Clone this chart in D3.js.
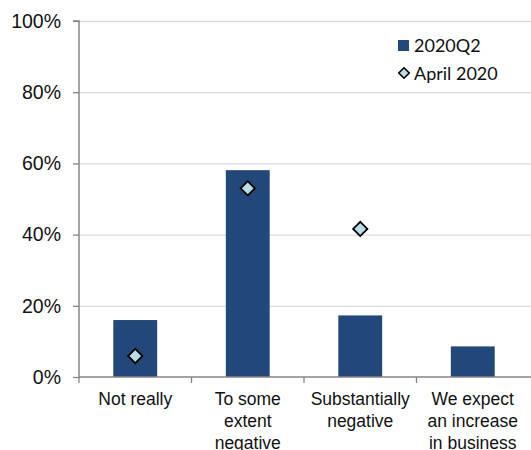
<!DOCTYPE html>
<html><head><meta charset="utf-8">
<script src="https://cdn.jsdelivr.net/npm/d3@7"></script>
<style>body{margin:0;background:#fff}svg{display:block}</style>
</head><body>
<script>
const categories = [["Not really"],["To some","extent","negative"],["Substantially","negative"],["We expect","an increase","in business"]];
const series2020Q2 = [16.0, 58.1, 17.3, 8.6];
const seriesApril2020 = [5.9, 53.0, 41.6, null];
const yTicks = [0, 20, 40, 60, 80, 100];
const legendLabels = ["2020Q2", "April 2020"];

const W = 531, H = 450;
const m = {left: 79, right: 2, top: 21, bottom: 73};
const svg = d3.select("body").append("svg").attr("width", W).attr("height", H);

const x = d3.scaleBand().domain(d3.range(categories.length)).range([m.left, W - m.right]).paddingInner(0.61).paddingOuter(0.305);
const xOuter = d3.scaleBand().domain(d3.range(categories.length)).range([m.left, W - m.right]);
const y = d3.scaleLinear().domain([0, 100]).range([H - m.bottom, m.top]);

// gridlines
svg.append("g").selectAll("line").data(yTicks.filter(d => d > 0)).join("line")
  .attr("x1", m.left).attr("x2", W).attr("y1", d => y(d) + 0.5).attr("y2", d => y(d) + 0.5)
  .attr("stroke", "#d9d9d9").attr("stroke-width", 1.3);

// bars
svg.append("g").selectAll("rect").data(series2020Q2).join("rect")
  .attr("x", (d, i) => x(i)).attr("width", x.bandwidth())
  .attr("y", d => y(d)).attr("height", d => y(0) - y(d))
  .attr("fill", "#22487a");

// axes
const yAxis = d3.axisLeft(y).tickValues(yTicks).tickFormat(d => d + "%").tickSize(6).tickPadding(12);
const gy = svg.append("g").attr("transform", `translate(${m.left},0)`).call(yAxis);
gy.select(".domain").attr("stroke", "#868686").attr("stroke-width", 1.5).attr("d", `M-6,${y(100)}H0V${y(0)}`);
gy.selectAll(".tick line").attr("stroke", "#868686").attr("stroke-width", 1.3);
gy.selectAll(".tick text").attr("font-family", "Liberation Sans, Arial, sans-serif").attr("font-size", 19.5).attr("fill", "#111");

const xAxisLine = svg.append("g");
xAxisLine.append("line").attr("x1", m.left).attr("x2", W).attr("y1", y(0)).attr("y2", y(0)).attr("stroke", "#868686").attr("stroke-width", 1.6);
const bounds = d3.range(categories.length).map(i => xOuter(i));
xAxisLine.selectAll(".xt").data(bounds).join("line").attr("class", "xt")
  .attr("x1", d => d).attr("x2", d => d).attr("y1", y(0)).attr("y2", y(0) + 6)
  .attr("stroke", "#868686").attr("stroke-width", 1.3);

const xl = svg.append("g").selectAll("text").data(categories).join("text")
  .attr("x", (d, i) => xOuter(i) + xOuter.bandwidth() / 2)
  .attr("y", y(0) + 28)
  .attr("text-anchor", "middle")
  .attr("font-family", "Liberation Sans, Arial, sans-serif").attr("font-size", 17.5).attr("fill", "#111");
xl.each(function(d) {
  const t = d3.select(this);
  d.forEach((line, k) => t.append("tspan").attr("x", t.attr("x")).attr("dy", k === 0 ? 0 : 22).text(line));
});

// diamonds
const diamond = d3.symbol().type(d3.symbolDiamond2).size(130);
svg.append("g").selectAll("path").data(seriesApril2020.map((v, i) => ({v, i})).filter(d => d.v != null)).join("path")
  .attr("transform", d => `translate(${xOuter(d.i) + xOuter.bandwidth() / 2},${y(d.v)})`)
  .attr("d", diamond).attr("fill", "#b7dee8").attr("stroke", "#000").attr("stroke-width", 1.8);

// legend
const lg = svg.append("g").attr("font-family", "Lato, Carlito, sans-serif").attr("font-size", 18).attr("fill", "#111");
lg.append("rect").attr("x", 398).attr("y", 40).attr("width", 11).attr("height", 11).attr("fill", "#22487a");
lg.append("text").attr("x", 414).attr("y", 52).text(legendLabels[0]);
lg.append("path").attr("transform", "translate(404,73)").attr("d", d3.symbol().type(d3.symbolDiamond2).size(70))
  .attr("fill", "#b7dee8").attr("stroke", "#000").attr("stroke-width", 1.6);
lg.append("text").attr("x", 414).attr("y", 80).text(legendLabels[1]);
</script>
</body></html>
